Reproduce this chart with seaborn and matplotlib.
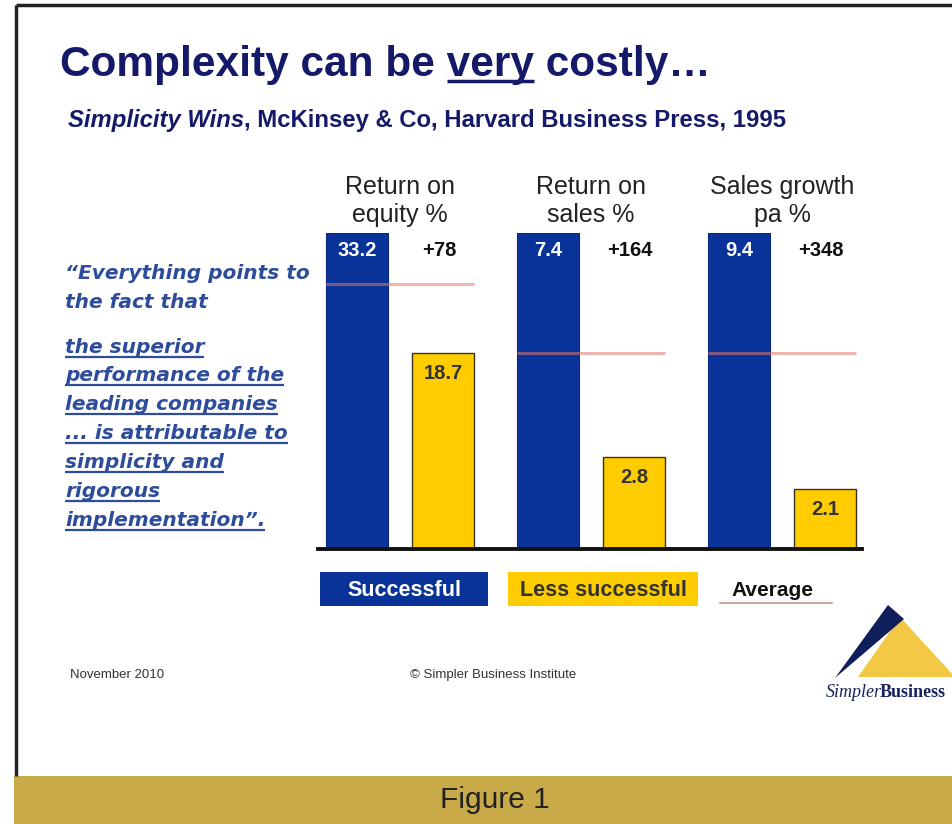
import numpy as np
import pandas as pd
import matplotlib
matplotlib.use("Agg")
import matplotlib.pyplot as plt
import seaborn as sns
from matplotlib.patches import Rectangle, Polygon

# ---------------- data ----------------
metrics = ["Return on\nequity %", "Return on\nsales %", "Sales growth\npa %"]
groups = ["Successful", "Less successful"]
successful = [33.2, 7.4, 9.4]
less_successful = [18.7, 2.8, 2.1]
premium_pct = [78, 164, 348]
# bar heights as drawn on the slide (index: successful bar = 100)
successful_height = [100, 100, 100]
less_height = [62, 29, 19]
average_height = [84, 62, 62]

quote_lines = ['\u201cEverything points to', 'the fact that',
               'the superior', 'performance of the', 'leading companies',
               '... is attributable to', 'simplicity and', 'rigorous',
               'implementation\u201d.']
quote_underlined = [False, False, True, True, True, True, True, True, True]

# ---------------- style ----------------
W, H = 953, 824
sns.set_theme(style="white")
plt.rcParams['font.family'] = ['Liberation Sans', 'DejaVu Sans']

BLUE = "#0A3399"
YELLOW = "#FFCC00"
NAVY = "#15196A"
QUOTE = "#2E4C9C"
AVG = "#E07A6A"

fig = plt.figure(figsize=(W / 100, H / 100), dpi=100)
fig.patch.set_facecolor("white")

def fx(px):
    return px / W

def fy(py):
    return 1 - py / H

# background / decoration axes in pixel units
bg = fig.add_axes([0, 0, 1, 1])
bg.set_xlim(0, W)
bg.set_ylim(H, 0)
bg.axis("off")

# slide border and caption band
bg.plot([16, 16], [5, 776], color="#222222", lw=2.5, solid_capstyle="butt")
bg.plot([16, W], [5, 5], color="#222222", lw=2.5, solid_capstyle="butt")
bg.add_patch(Rectangle((14, 776), W - 14, H - 776, color="#C8AA48", lw=0))
bg.text(495, 800, "Figure 1", fontsize=21.5, color="#222222", ha="center", va="center")

# ---------------- main chart ----------------
ax = fig.add_axes([fx(318), fy(549), (862 - 318) / W, (549 - 233) / H])
ax.patch.set_alpha(0)

df = pd.DataFrame({
    "metric": metrics * 2,
    "group": [g for g in groups for _ in metrics],
    "height": successful_height + less_height,
})
sns.barplot(data=df, x="metric", y="height", hue="group", hue_order=groups,
            palette=[BLUE, YELLOW], saturation=1, width=0.9, gap=0.28,
            ax=ax, legend=False, errorbar=None)

bars = list(ax.patches)
blue_bars = bars[:3]
yellow_bars = bars[3:6]
for b in blue_bars:
    b.set_edgecolor("#0A2A80")
    b.set_linewidth(0.8)
for b in yellow_bars:
    b.set_edgecolor("#3A3320")
    b.set_linewidth(1.0)

ax.set_xlim(-0.429, 2.419)
ax.set_ylim(0, 100)
ax.set_yticks([])
ax.set_xlabel("")
ax.set_ylabel("")
ax.xaxis.set_ticks_position("top")
ax.tick_params(axis="x", length=0, pad=4, labelsize=18, labelcolor="#222222")
for lab in ax.get_xticklabels():
    lab.set_linespacing(1.25)
for s in ["left", "right", "top"]:
    ax.spines[s].set_visible(False)
ax.spines["bottom"].set_color("#111111")
ax.spines["bottom"].set_linewidth(2.8)

for i in range(3):
    b = blue_bars[i]
    y = yellow_bars[i]
    bc = b.get_x() + b.get_width() / 2
    yc = y.get_x() + y.get_width() / 2
    ax.hlines(average_height[i], b.get_x(), y.get_x() + y.get_width(),
              color=AVG, alpha=0.55, lw=2.2, zorder=5)
    ax.text(bc, successful_height[i] - 5.5, f"{successful[i]}", color="white",
            fontsize=14.5, fontweight="bold", ha="center", va="center", zorder=6)
    ax.text(yc - 0.02, successful_height[i] - 5.5, f"+{premium_pct[i]}", color="#111111",
            fontsize=14.5, fontweight="bold", ha="center", va="center", zorder=6)
    ax.text(yc, less_height[i] - 6.5, f"{less_successful[i]}", color="#333333",
            fontsize=14.5, fontweight="bold", ha="center", va="center", zorder=6)

# ---------------- titles ----------------
renderer = fig.canvas.get_renderer()

def text_width_px(s, **kw):
    t = fig.text(0, 0, s, **kw)
    w = t.get_window_extent(renderer).width
    t.remove()
    return w

title_kw = dict(fontsize=30.5, fontweight="bold", color=NAVY)
title = "Complexity can be very costly\u2026"
fig.text(fx(60), fy(76), title, va="baseline", **title_kw)
w_full = text_width_px("Complexity can be very", **title_kw)
w_very = text_width_px("very", **title_kw)
bg.plot([60 + w_full - w_very, 60 + w_full], [81, 81], color=NAVY, lw=2.5,
        solid_capstyle="butt")

sub_kw = dict(fontsize=17.2, fontweight="bold", color=NAVY)
fig.text(fx(68), fy(127), "Simplicity Wins", va="baseline", style="italic", **sub_kw)
w_sw = text_width_px("Simplicity Wins", style="italic", **sub_kw)
fig.text(fx(68 + w_sw), fy(127), ", McKinsey & Co, Harvard Business Press, 1995",
         va="baseline", **sub_kw)

# ---------------- quote ----------------
q_kw = dict(fontsize=14.5, fontweight="bold", style="italic", color=QUOTE,
            family=["DejaVu Sans"])
baselines = [279, 308, 353, 381, 410, 439, 468, 497, 526]
for line, yb, ul in zip(quote_lines, baselines, quote_underlined):
    fig.text(fx(65), fy(yb), line, va="baseline", **q_kw)
    if ul:
        w = text_width_px(line, **q_kw)
        bg.plot([65, 65 + w], [yb + 4, yb + 4], color=QUOTE, lw=1.6,
                solid_capstyle="butt")

# ---------------- legend ----------------
bg.add_patch(Rectangle((320, 572), 168, 34, color=BLUE, lw=0))
bg.text(404, 590, groups[0], color="white", fontsize=15.5, fontweight="bold",
        ha="center", va="center")
bg.add_patch(Rectangle((508, 572), 190, 34, color=YELLOW, lw=0))
bg.text(603, 590, groups[1], color="#333333", fontsize=15.5, fontweight="bold",
        ha="center", va="center")
bg.text(731, 590, "Average", color="#111111", fontsize=15, fontweight="bold",
        ha="left", va="center")
bg.plot([720, 832], [603, 603], color="#C9A89E", lw=1.5)

# ---------------- footer ----------------
bg.text(70, 675, "November 2010", fontsize=9.5, color="#333333", va="center")
bg.text(410, 675, "\u00a9 Simpler Business Institute", fontsize=9.5, color="#333333",
        va="center")

# logo
bg.add_patch(Polygon([(858, 677), (900, 617), (955, 677)], closed=True,
                     color="#F3C844", lw=0))
bg.add_patch(Polygon([(835, 678), (888, 605), (904, 619)], closed=True,
                     color="#101E5C", lw=0))
logo_size = 13
logo_kw = dict(family="Liberation Serif", fontsize=logo_size, color="#17235E", va="baseline")
fig.text(fx(826), fy(697), "Simpler", style="italic", **logo_kw)
w_simp = text_width_px("Simpler", style="italic", family="Liberation Serif", fontsize=logo_size)
fig.text(fx(826 + w_simp - 2), fy(697), "Business", fontweight="bold", **logo_kw)

fig.savefig("out.png", dpi=100, facecolor="white")
